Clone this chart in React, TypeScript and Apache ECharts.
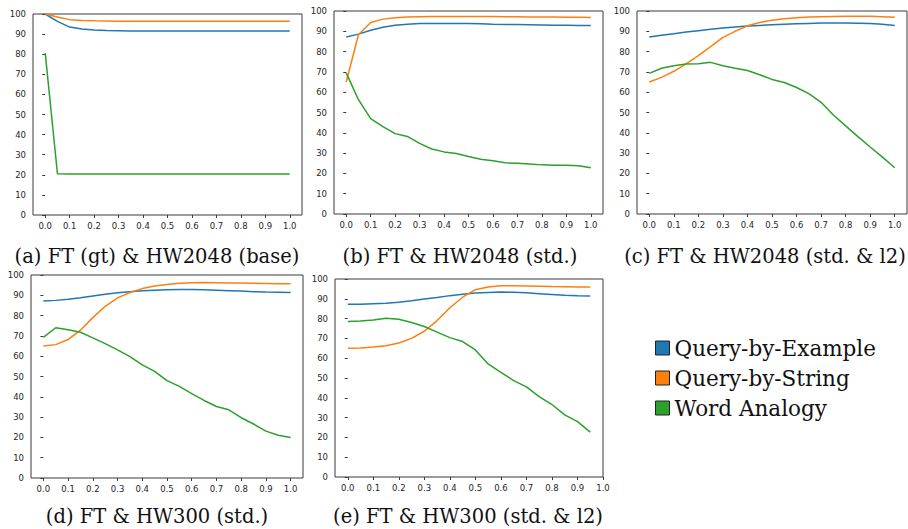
import React, { useEffect, useRef } from "react";
import * as echarts from "echarts";

const seriesNames = ["Query-by-Example", "Query-by-String", "Word Analogy"];
const colors = ["#1f77b4", "#ff7f0e", "#2ca02c"];

const xs21 = [0, 0.05, 0.1, 0.15, 0.2, 0.25, 0.3, 0.35, 0.4, 0.45, 0.5, 0.55, 0.6, 0.65, 0.7, 0.75, 0.8, 0.85, 0.9, 0.95, 1.0];
const xs20 = [0, 0.05, 0.1, 0.15, 0.2, 0.25, 0.3, 0.35, 0.4, 0.45, 0.5, 0.55, 0.6, 0.65, 0.7, 0.75, 0.8, 0.85, 0.9, 0.95];
const xTickValues = [0, 0.1, 0.2, 0.3, 0.4, 0.5, 0.6, 0.7, 0.8, 0.9, 1.0];

const captions = [
  "(a) FT (gt) & HW2048 (base)",
  "(b) FT & HW2048 (std.)",
  "(c) FT & HW2048 (std. & l2)",
  "(d) FT & HW300 (std.)",
  "(e) FT & HW300 (std. & l2)",
];

// (a)
const aQbE = [100, 96.3, 93.5, 92.5, 92.0, 91.8, 91.7, 91.6, 91.6, 91.5, 91.5, 91.5, 91.5, 91.5, 91.5, 91.5, 91.5, 91.5, 91.5, 91.5, 91.5];
const aQbS = [100, 98.5, 97.2, 96.8, 96.6, 96.5, 96.4, 96.4, 96.4, 96.4, 96.4, 96.4, 96.4, 96.4, 96.4, 96.4, 96.4, 96.4, 96.4, 96.4, 96.4];
const aWA = [80.5, 20.5, 20.4, 20.4, 20.4, 20.4, 20.4, 20.4, 20.4, 20.4, 20.4, 20.4, 20.4, 20.4, 20.4, 20.4, 20.4, 20.4, 20.4, 20.4, 20.4];
// (b)
const bQbE = [87.2, 88.6, 90.5, 92.0, 93.0, 93.5, 93.8, 93.9, 93.9, 93.8, 93.8, 93.7, 93.5, 93.4, 93.3, 93.2, 93.1, 93.0, 93.0, 92.9, 92.8];
const bQbS = [65.0, 88.3, 94.3, 96.0, 96.7, 97.0, 97.2, 97.3, 97.3, 97.3, 97.3, 97.3, 97.3, 97.2, 97.2, 97.1, 97.0, 97.0, 96.9, 96.9, 96.8];
const bWA = [69.5, 56.3, 47.0, 43.0, 39.6, 38.2, 34.8, 32.0, 30.6, 29.8, 28.3, 27.0, 26.2, 25.2, 25.0, 24.6, 24.2, 24.0, 24.0, 23.8, 22.8];
// (c)
const cQbE = [87.2, 88.0, 88.8, 89.6, 90.3, 91.0, 91.6, 92.1, 92.6, 92.9, 93.2, 93.5, 93.7, 93.9, 94.1, 94.1, 94.1, 94.0, 93.8, 93.5, 92.8];
const cQbS = [65.0, 67.3, 70.3, 74.0, 78.0, 82.5, 87.0, 90.0, 92.7, 94.3, 95.5, 96.2, 96.7, 97.0, 97.2, 97.3, 97.4, 97.4, 97.4, 97.2, 96.9];
const cWA = [69.3, 71.8, 73.0, 73.9, 74.0, 74.7, 73.0, 71.8, 70.7, 68.6, 66.3, 64.8, 62.3, 59.3, 55.0, 48.8, 43.4, 38.1, 33.0, 28.0, 22.8];
// (d)
const dQbE = [87.2, 87.5, 88.0, 88.8, 89.7, 90.5, 91.2, 91.7, 92.2, 92.5, 92.7, 92.8, 92.8, 92.7, 92.5, 92.3, 92.1, 91.8, 91.6, 91.5, 91.4];
const dQbS = [65.0, 65.7, 68.2, 72.8, 79.0, 84.6, 88.7, 91.4, 93.3, 94.6, 95.3, 95.9, 96.2, 96.3, 96.2, 96.1, 96.0, 95.9, 95.8, 95.7, 95.7];
const dWA = [69.3, 74.0, 73.0, 71.8, 69.0, 66.2, 63.1, 59.8, 55.7, 52.5, 48.0, 45.1, 41.6, 38.2, 35.2, 33.6, 29.7, 26.6, 23.1, 21.1, 20.0];
// (e)
const eQbE = [87.2, 87.2, 87.5, 87.8, 88.3, 89.0, 89.9, 90.7, 91.6, 92.3, 92.9, 93.2, 93.4, 93.3, 93.0, 92.6, 92.2, 91.8, 91.5, 91.4];
const eQbS = [65.0, 65.1, 65.6, 66.3, 67.7, 70.0, 73.6, 79.0, 85.5, 90.8, 94.6, 96.0, 96.6, 96.6, 96.5, 96.4, 96.2, 96.1, 96.0, 95.9];
const eWA = [78.5, 78.8, 79.3, 80.2, 79.7, 78.0, 76.0, 73.2, 70.4, 68.4, 64.2, 57.1, 52.9, 48.7, 45.5, 40.6, 36.6, 31.4, 28.0, 22.7];

const panels = [
  { xs: xs21, ys: [aQbE, aQbS, aWA], xMax: 1.05, grid: { left: 33, top: 14, width: 269, height: 201 }, cap: [157, 256] },
  { xs: xs21, ys: [bQbE, bQbS, bWA], xMax: 1.05, grid: { left: 334, top: 11, width: 269, height: 203 }, cap: [460, 256] },
  { xs: xs21, ys: [cQbE, cQbS, cWA], xMax: 1.05, grid: { left: 637, top: 11, width: 270, height: 203 }, cap: [765, 256] },
  { xs: xs21, ys: [dQbE, dQbS, dWA], xMax: 1.05, grid: { left: 31, top: 275, width: 272, height: 203 }, cap: [157, 516] },
  { xs: xs20, ys: [eQbE, eQbS, eWA], xMax: 1.0, grid: { left: 335, top: 279, width: 268, height: 198 }, cap: [468, 516] },
];

const tickFont = { fontFamily: "DejaVu Sans", fontSize: 8.5, color: "#262626" };

export default function App() {
  const ref = useRef<HTMLDivElement>(null);
  useEffect(() => {
    if (!ref.current) return;
    const chart = echarts.init(ref.current, null, { renderer: "svg" });
    const grid: any[] = [];
    const xAxis: any[] = [];
    const yAxis: any[] = [];
    const series: any[] = [];
    const graphic: any[] = [];
    panels.forEach((p, i) => {
      grid.push({ ...p.grid, show: true, borderColor: "#3a3a3a", borderWidth: 1, backgroundColor: "transparent" });
      xAxis.push({
        type: "value",
        gridIndex: i,
        min: -0.05,
        max: p.xMax,
        splitLine: { show: false },
        axisLine: { show: false },
        axisTick: { show: true, length: 3, lineStyle: { color: "#3a3a3a" }, customValues: xTickValues },
        axisLabel: { ...tickFont, margin: 6, customValues: xTickValues, formatter: (v: number) => v.toFixed(1) },
      });
      yAxis.push({
        type: "value",
        gridIndex: i,
        min: 0,
        max: 100,
        interval: 10,
        splitLine: { show: false },
        axisLine: { show: false },
        axisTick: { show: true, length: 3, lineStyle: { color: "#3a3a3a" } },
        axisLabel: { ...tickFont, margin: 7 },
      });
      p.ys.forEach((vals, k) => {
        series.push({
          type: "line",
          name: seriesNames[k],
          xAxisIndex: i,
          yAxisIndex: i,
          data: vals.map((v, j) => [p.xs[j], v]),
          showSymbol: false,
          symbol: "none",
          lineStyle: { width: 1.5, color: colors[k] },
          itemStyle: { color: colors[k] },
          z: 2 + k,
        });
      });
      graphic.push({
        type: "text",
        x: p.cap[0],
        y: p.cap[1],
        style: {
          text: captions[i],
          fontFamily: "DejaVu Serif",
          fontSize: 19.5,
          fill: "#111",
          textAlign: "center",
          textVerticalAlign: "middle",
        },
      });
    });
    chart.setOption({
      animation: false,
      backgroundColor: "#ffffff",
      grid,
      xAxis,
      yAxis,
      series,
      graphic,
      legend: {
        orient: "vertical",
        left: 655,
        top: 336,
        padding: 0,
        itemGap: 6,
        itemWidth: 14,
        itemHeight: 14,
        selectedMode: false,
        data: seriesNames.map((n, k) => ({
          name: n,
          icon: "rect",
          itemStyle: { color: colors[k], borderColor: "#222", borderWidth: 1 },
        })),
        textStyle: { fontFamily: "DejaVu Serif", fontSize: 21.5, color: "#111", lineHeight: 24 },
      },
    });
    return () => chart.dispose();
  }, []);
  return <div ref={ref} style={{ position: "absolute", left: 0, top: 0, width: 908, height: 529 }} />;
}
